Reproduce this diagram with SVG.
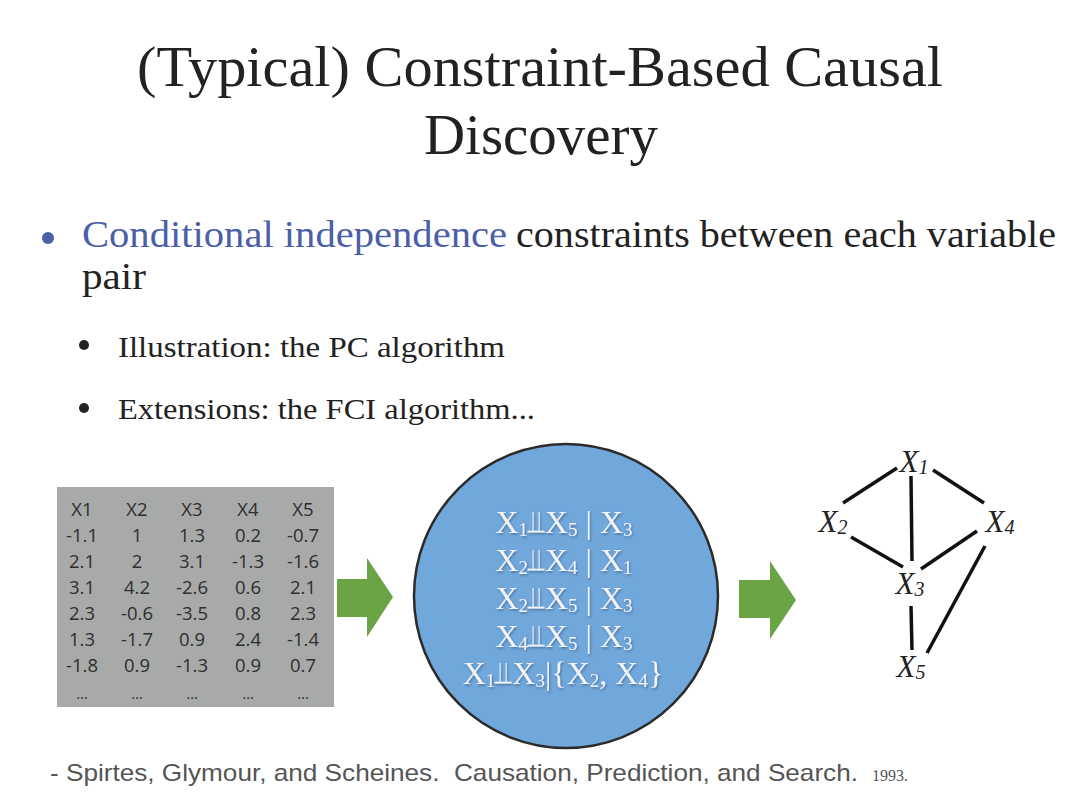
<svg xmlns="http://www.w3.org/2000/svg" width="1080" height="810" viewBox="0 0 1080 810">
  <defs>
    <style>
      .title { font-family: "Liberation Serif", "DejaVu Serif", serif; font-size: 56px; fill: #222; }
      .body { font-family: "Liberation Serif", "DejaVu Serif", serif; fill: #222; }
      .tbl { font-family: "Open Sans", "Liberation Sans", sans-serif; font-size: 18.5px; fill: #2e2e2e; text-anchor: middle; }
      .ci { font-family: "Liberation Serif", "DejaVu Serif", serif; font-size: 32px; fill: #f1f4f8; text-anchor: middle; }
      .sub { font-size: 19px; }
      .ind { font-family: "DejaVu Sans", sans-serif; font-size: 31px; }
      .gl { font-family: "Liberation Serif", "DejaVu Serif", serif; font-style: italic; font-size: 31px; fill: #222; text-anchor: middle; }
      .gs { font-size: 20px; }
      .edge { stroke: #111; stroke-width: 3.5; stroke-linecap: butt; fill: none; }
      .arrow { fill: #6aa444; }
    </style>
    <filter id="shadow" x="-10%" y="-10%" width="120%" height="130%">
      <feDropShadow dx="1" dy="1.5" stdDeviation="1" flood-color="#2a4a6a" flood-opacity="0.6"/>
    </filter>
  </defs>
  <rect width="1080" height="810" fill="#ffffff"/>

  <g id="title">
    <text class="title" x="137" y="86" textLength="806" lengthAdjust="spacingAndGlyphs">(Typical) Constraint-Based Causal</text>
    <text class="title" x="424" y="154" textLength="234" lengthAdjust="spacingAndGlyphs">Discovery</text>
  </g>

  <g id="bullets">
    <circle cx="48" cy="238" r="6" fill="#4b5ea8"/>
    <text class="body" x="82" y="247" font-size="37" style="fill:#4b5ea8" textLength="425" lengthAdjust="spacingAndGlyphs">Conditional independence</text>
    <text class="body" x="516" y="247" font-size="37" textLength="540" lengthAdjust="spacingAndGlyphs">constraints between each variable</text>
    <text class="body" x="82" y="289" font-size="37" textLength="64" lengthAdjust="spacingAndGlyphs">pair</text>
    <circle cx="84" cy="345" r="5" fill="#222"/>
    <text class="body" x="118" y="357" font-size="29" textLength="387" lengthAdjust="spacingAndGlyphs">Illustration: the PC algorithm</text>
    <circle cx="84" cy="408" r="5" fill="#222"/>
    <text class="body" x="118" y="419" font-size="29" textLength="417" lengthAdjust="spacingAndGlyphs">Extensions: the FCI algorithm...</text>
  </g>

  <g id="data-table">
    <rect x="57" y="487" width="277" height="220" fill="#a8aaa9"/>
    <g class="tbl">
      <text x="82" y="516">X1</text><text x="137" y="516">X2</text><text x="192" y="516">X3</text><text x="248" y="516">X4</text><text x="303" y="516">X5</text>
      <text x="82" y="542">-1.1</text><text x="137" y="542">1</text><text x="192" y="542">1.3</text><text x="248" y="542">0.2</text><text x="303" y="542">-0.7</text>
      <text x="82" y="568">2.1</text><text x="137" y="568">2</text><text x="192" y="568">3.1</text><text x="248" y="568">-1.3</text><text x="303" y="568">-1.6</text>
      <text x="82" y="594">3.1</text><text x="137" y="594">4.2</text><text x="192" y="594">-2.6</text><text x="248" y="594">0.6</text><text x="303" y="594">2.1</text>
      <text x="82" y="620">2.3</text><text x="137" y="620">-0.6</text><text x="192" y="620">-3.5</text><text x="248" y="620">0.8</text><text x="303" y="620">2.3</text>
      <text x="82" y="646">1.3</text><text x="137" y="646">-1.7</text><text x="192" y="646">0.9</text><text x="248" y="646">2.4</text><text x="303" y="646">-1.4</text>
      <text x="82" y="672">-1.8</text><text x="137" y="672">0.9</text><text x="192" y="672">-1.3</text><text x="248" y="672">0.9</text><text x="303" y="672">0.7</text>
      <text x="82" y="699" font-size="15">…</text><text x="137" y="699" font-size="15">…</text><text x="192" y="699" font-size="15">…</text><text x="248" y="699" font-size="15">…</text><text x="303" y="699" font-size="15">…</text>
    </g>
  </g>

  <g id="arrow-1">
    <polygon class="arrow" points="337,579 367,579 367,558 393,597 367,637 367,617 337,617"/>
  </g>

  <g id="ci-circle">
    <circle cx="566" cy="596" r="152" fill="#71a8dc" stroke="#2b2b2b" stroke-width="2.5"/>
    <g class="ci" filter="url(#shadow)">
      <text x="564" y="533">X<tspan class="sub" dy="3">1</tspan><tspan class="ind" dy="-3">⫫</tspan>X<tspan class="sub" dy="3">5</tspan><tspan dy="-3"> | X</tspan><tspan class="sub" dy="3">3</tspan></text>
      <text x="564" y="571">X<tspan class="sub" dy="3">2</tspan><tspan class="ind" dy="-3">⫫</tspan>X<tspan class="sub" dy="3">4</tspan><tspan dy="-3"> | X</tspan><tspan class="sub" dy="3">1</tspan></text>
      <text x="564" y="609">X<tspan class="sub" dy="3">2</tspan><tspan class="ind" dy="-3">⫫</tspan>X<tspan class="sub" dy="3">5</tspan><tspan dy="-3"> | X</tspan><tspan class="sub" dy="3">3</tspan></text>
      <text x="564" y="647">X<tspan class="sub" dy="3">4</tspan><tspan class="ind" dy="-3">⫫</tspan>X<tspan class="sub" dy="3">5</tspan><tspan dy="-3"> | X</tspan><tspan class="sub" dy="3">3</tspan></text>
      <text x="563" y="684">X<tspan class="sub" dy="3">1</tspan><tspan class="ind" dy="-3">⫫</tspan>X<tspan class="sub" dy="3">3</tspan><tspan dy="-3">|{X</tspan><tspan class="sub" dy="3">2</tspan><tspan dy="-3">, X</tspan><tspan class="sub" dy="3">4</tspan><tspan dy="-3">}</tspan></text>
    </g>
  </g>

  <g id="arrow-2">
    <polygon class="arrow" points="739,580 770,580 770,561 796,600 770,639 770,618 739,618"/>
  </g>

  <g id="connectors">
    <line class="edge" x1="843" y1="503" x2="897" y2="468"/>
    <line class="edge" x1="911" y1="476" x2="912" y2="561"/>
    <line class="edge" x1="933" y1="470" x2="984" y2="503"/>
    <line class="edge" x1="851" y1="537" x2="903" y2="567"/>
    <line class="edge" x1="977" y1="531" x2="921" y2="569"/>
    <line class="edge" x1="985" y1="546" x2="927" y2="653"/>
    <line class="edge" x1="911" y1="606" x2="912" y2="650"/>
  </g>

  <g id="node-X1"><text class="gl" x="914" y="472">X<tspan class="gs" dy="2">1</tspan></text></g>
  <g id="node-X2"><text class="gl" x="833" y="532">X<tspan class="gs" dy="2">2</tspan></text></g>
  <g id="node-X4"><text class="gl" x="1000" y="532">X<tspan class="gs" dy="2">4</tspan></text></g>
  <g id="node-X3"><text class="gl" x="910" y="594">X<tspan class="gs" dy="2">3</tspan></text></g>
  <g id="node-X5"><text class="gl" x="911" y="677">X<tspan class="gs" dy="2">5</tspan></text></g>

  <g id="footer">
    <text x="50" y="781" font-family="'Liberation Sans', Arial, sans-serif" font-size="24" fill="#555" xml:space="preserve" textLength="808" lengthAdjust="spacingAndGlyphs">- Spirtes, Glymour, and Scheines.  Causation, Prediction, and Search.</text>
    <text x="872" y="781" font-family="'Liberation Serif', serif" font-size="16" fill="#555">1993.</text>
  </g>
</svg>
